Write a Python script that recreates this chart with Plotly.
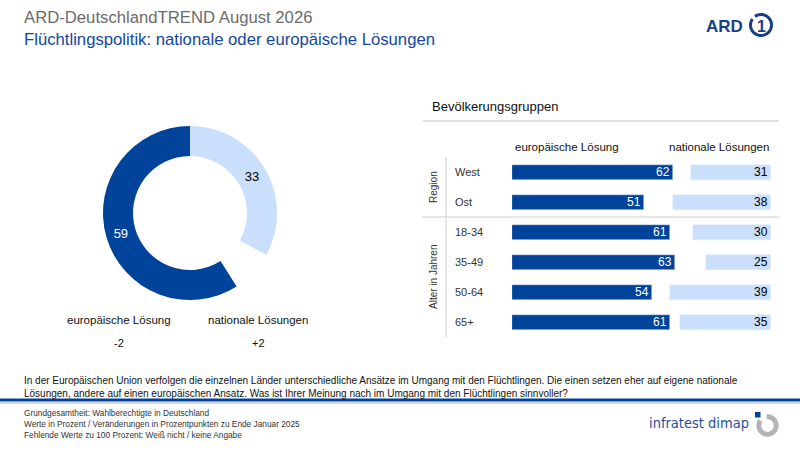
import math
import plotly.graph_objects as go

# donut: total population
donut_labels = ["europäische Lösung", "nationale Lösungen"]
donut_values = [59, 33]
donut_changes = ["-2", "+2"]

# bars: population groups
groups = ["Region", "Alter in Jahren"]
group_sizes = [2, 4]
rows = ["West", "Ost", "18-34", "35-49", "50-64", "65+"]
europa = [62, 51, 61, 63, 54, 61]
national = [31, 38, 30, 25, 39, 35]

DARK = "#00439b"
LIGHT = "#c9dffb"
FONT = "Liberation Sans, Arial, sans-serif"
W, H = 800, 450


def px(x):
    return x / W


def py(y):
    return 1 - y / H


fig = go.Figure()

# donut, first slice (national) starts at 12 o'clock going clockwise,
# the missing share to 100 is left as a blank gap
gap = 100 - sum(donut_values)
fig.add_trace(go.Pie(
    values=[donut_values[1], gap, donut_values[0]],
    text=[str(donut_values[1]), "", str(donut_values[0])],
    textinfo="text",
    textposition="inside",
    insidetextorientation="horizontal",
    textfont=dict(family=FONT, size=13, color=["black", "rgba(0,0,0,0)", "white"]),
    marker=dict(colors=[LIGHT, "rgba(0,0,0,0)", DARK]),
    sort=False, direction="clockwise", rotation=0,
    hole=0.655,
    domain=dict(x=[px(103), px(277)], y=[py(300), py(126)]),
    hoverinfo="skip", showlegend=False,
))

fig.add_trace(go.Bar(
    x=europa, y=rows, orientation="h",
    marker_color=DARK, width=0.5,
    text=europa, textposition="inside", insidetextanchor="end",
    textangle=0, textfont=dict(family=FONT, size=12, color="white"),
    xaxis="x", yaxis="y", hoverinfo="skip", showlegend=False,
))
fig.add_trace(go.Bar(
    x=national, y=rows, orientation="h",
    marker_color=LIGHT, width=0.5,
    text=national, textposition="inside", insidetextanchor="start",
    textangle=0, textfont=dict(family=FONT, size=12, color="black"),
    xaxis="x2", yaxis="y", hoverinfo="skip", showlegend=False,
))

ann = []


def txt(x, y, s, size=12, color="#222", xanchor="left", **kw):
    ann.append(dict(x=px(x), y=py(y), xref="paper", yref="paper", text=s,
                    showarrow=False, xanchor=xanchor, yanchor="middle",
                    font=dict(family=kw.pop("family", FONT), size=size, color=color), **kw))


# header
txt(22, 17, "ARD-DeutschlandTREND August 2026", 16.7, "#6b6b6b")
txt(22, 39, "Flüchtlingspolitik: nationale oder europäische Lösungen", 16.7, "#1547a0")

# ARD logo
txt(745, 26, "<b>ARD</b>", 17, "#1a3f85", xanchor="right")
txt(761, 26, "<b>1</b>", 16, "#1a3f85", xanchor="center")

# donut labels
for lab, ch, cx in zip(donut_labels, donut_changes, [119, 258]):
    txt(cx, 320, lab, 11.5, "#111", xanchor="center")
    txt(cx, 343, ch, 11, "#111", xanchor="center")

# right panel
txt(430, 107, "Bevölkerungsgruppen", 13, "#111")
txt(513, 147, donut_labels[0], 11.5, "#111")
txt(771, 147, donut_labels[1], 11.5, "#111", xanchor="right")

for r in rows:
    ann.append(dict(x=px(453), y=r, xref="paper", yref="y", text=r, showarrow=False,
                    xanchor="left", yanchor="middle", font=dict(family=FONT, size=11, color="#333")))

start = 0
for g, n in zip(groups, group_sizes):
    ann.append(dict(x=px(433), y=start + (n - 1) / 2, xref="paper", yref="y", text=g,
                    showarrow=False, textangle=-90, xanchor="center", yanchor="middle",
                    font=dict(family=FONT, size=10, color="#333")))
    start += n

# bottom texts
txt(22, 387, "In der Europäischen Union verfolgen die einzelnen Länder unterschiedliche Ansätze im Umgang mit den Flüchtlingen. "
    "Die einen setzen eher auf eigene nationale<br>Lösungen, andere auf einen europäischen Ansatz. "
    "Was ist Ihrer Meinung nach im Umgang mit den Flüchtlingen sinnvoller?", 10, "#111", align="left")
txt(22, 424, "Grundgesamtheit: Wahlberechtigte in Deutschland<br>"
    "Werte in Prozent / Veränderungen in Prozentpunkten zu Ende Januar 2025<br>"
    "Fehlende Werte zu 100 Prozent: Weiß nicht / keine Angabe", 8.3, "#333", align="left")
txt(751, 423, "infratest dimap", 14.5, "#1f4f9c", xanchor="right",
    family="Liberation Sans Narrow, DejaVu Sans Condensed, sans-serif")


def line(x0, y0, x1, y1, color, width):
    return dict(type="line", xref="paper", yref="paper", x0=px(x0), x1=px(x1),
                y0=py(y0), y1=py(y1), line=dict(color=color, width=width))


def arc(cx, cy, r, a0, a1, color, width, n=40):
    # plotly paths have no "A" command, so the logo arcs are polylines
    pts = []
    for i in range(n + 1):
        a = math.radians(a0 + (a1 - a0) * i / n)
        pts.append(f"{px(cx + r * math.cos(a))},{py(cy - r * math.sin(a))}")
    return dict(type="path", xref="paper", yref="paper", path="M " + " L ".join(pts),
                line=dict(color=color, width=width))


shapes = [
    # panel lines
    line(423, 121, 779, 121, "#bfbfbf", 1),
    line(422, 217, 780, 217, "#cfcfcf", 1),
    line(446, 157, 446, 337, "#cfcfcf", 1),
    # bottom rule
    line(0, 400, 800, 400, DARK, 3),
    line(0, 403, 800, 403, "#c8c8c8", 1.5),
    # ARD logo ring
    arc(761, 25, 10.5, 125, -215, "#1a3f85", 3),
    # infratest icon
    dict(type="rect", xref="paper", yref="paper", x0=px(755), x1=px(760.5), y0=py(417.5), y1=py(412),
         fillcolor=DARK, line_width=0),
    arc(767.5, 425.5, 8.7, 95, -215, "#b4b4b4", 5),
]

fig.update_layout(
    width=W, height=H, margin=dict(l=0, r=0, t=0, b=0),
    paper_bgcolor="white", plot_bgcolor="white",
    barmode="overlay", bargap=0,
    xaxis=dict(domain=[px(512), px(771)], range=[0, 100], visible=False, fixedrange=True),
    xaxis2=dict(domain=[px(512), px(771)], range=[100, 0], overlaying="x", visible=False, fixedrange=True),
    yaxis=dict(domain=[py(337), py(157)], type="category", categoryorder="array", categoryarray=rows,
               range=[len(rows) - 0.5, -0.5], visible=False, fixedrange=True),
    annotations=ann, shapes=shapes,
    uniformtext=dict(minsize=11, mode="show"),
)

fig.write_html("out.html", config={"displayModeBar": False},
               post_script="document.body.style.margin='0px';")
